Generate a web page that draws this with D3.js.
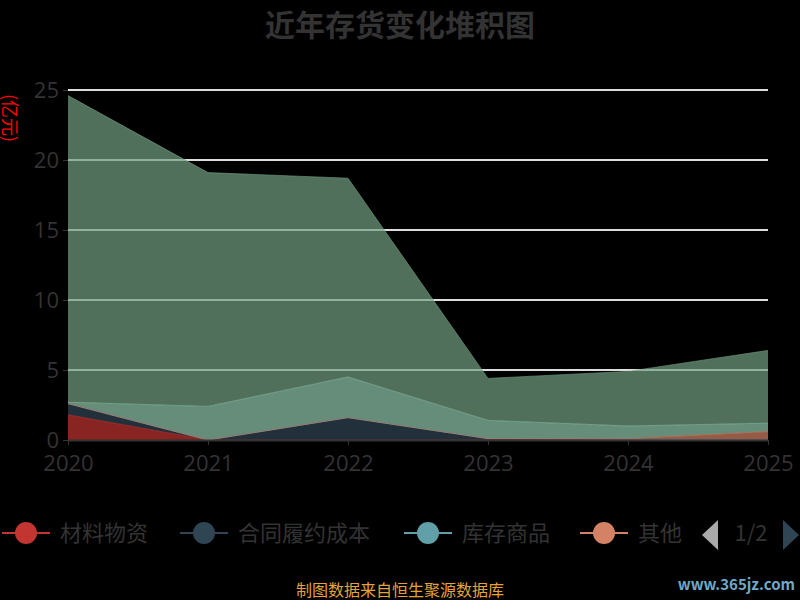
<!DOCTYPE html>
<html><head><meta charset="utf-8">
<script src="https://cdn.jsdelivr.net/npm/d3@7"></script>
<style>body{margin:0;background:#000}svg{display:block;font-family:"Noto Sans CJK SC",sans-serif}</style>
</head><body><svg id="c" width="800" height="600"></svg>
<script>
"use strict";

const years = ["2020", "2021", "2022", "2023", "2024", "2025"];
const seriesNames = ["材料物资", "合同履约成本", "库存商品", "其他", "在产品", "产成品"];
const seriesColors = ["#c23531", "#2f4554", "#61a0a8", "#d48265", "#91c7ae", "#749f83"];
const values = [
  [1.8, 0, 0, 0, 0, 0],
  [0.8, 0, 1.6, 0.1, 0.05, 0],
  [0, 0, 0, 0, 0, 0],
  [0, 0, 0, 0, 0.05, 0.6],
  [0.1, 2.4, 2.9, 1.3, 0.9, 0.6],
  [21.9, 16.7, 14.2, 3.0, 3.9, 5.2],
];
const yTicks = [0, 5, 10, 15, 20, 25];
const legendShown = 4;

const svg = d3.select("#c");
const x = d3.scalePoint().domain(years).range([68, 768]);
const y = d3.scaleLinear().domain([0, 25]).range([440, 90]);

const rows = years.map((yr, i) => {
  const r = { year: yr };
  seriesNames.forEach((n, k) => { r[n] = values[k][i]; });
  return r;
});
const stack = d3.stack().keys(seriesNames)(rows);

svg.append("text").attr("x", 400).attr("y", 36).attr("text-anchor", "middle")
  .attr("fill", "#333").attr("font-size", 30).attr("font-weight", "bold").text("近年存货变化堆积图");

// grid
svg.append("g").selectAll("line").data(yTicks.filter(d => d > 0)).join("line")
  .attr("x1", 68).attr("x2", 768).attr("y1", d => y(d)).attr("y2", d => y(d))
  .attr("stroke", "#ddd").attr("stroke-width", 2);

const area = d3.area().x((d, i) => x(years[i])).y0(d => y(d[0])).y1(d => y(d[1]));
const line = d3.line().x((d, i) => x(years[i])).y(d => y(d[1]));
stack.forEach((s, k) => {
  svg.append("path").attr("d", area(s)).attr("fill", seriesColors[k]).attr("fill-opacity", 0.7);
});
stack.forEach((s, k) => {
  svg.append("path").attr("d", line(s)).attr("fill", "none").attr("stroke", seriesColors[k]).attr("stroke-width", 1).attr("stroke-opacity", 0.6);
});

// axes
const yAxis = svg.append("g").attr("transform", "translate(68,0)")
  .call(d3.axisLeft(y).tickValues(yTicks).tickSize(5).tickPadding(4));
yAxis.select(".domain").remove();
yAxis.selectAll("line").attr("stroke", "#333");
yAxis.selectAll("text").attr("fill", "#333").attr("font-size", 22).attr("font-family", "Open Sans, sans-serif");

const xAxis = svg.append("g").attr("transform", "translate(0,440)")
  .call(d3.axisBottom(x).tickSize(5).tickPadding(10).tickSizeOuter(0));
xAxis.select(".domain").attr("stroke", "#333").attr("stroke-width", 2);
xAxis.selectAll("line").attr("stroke", "#333");
xAxis.selectAll("text").attr("fill", "#333").attr("font-size", 22).attr("font-family", "Open Sans, sans-serif");

svg.append("text").attr("transform", "translate(3,118) rotate(90)").attr("text-anchor", "middle")
  .attr("fill", "red").attr("font-size", 18).text("(亿元)");

// legend
const legX = [2, 180, 404, 580];
seriesNames.slice(0, legendShown).forEach((n, k) => {
  const g = svg.append("g").attr("transform", `translate(${legX[k]},533)`);
  g.append("line").attr("x1", 0).attr("x2", 48).attr("stroke", seriesColors[k]).attr("stroke-width", 2);
  g.append("circle").attr("cx", 24).attr("r", 11).attr("fill", seriesColors[k]);
  g.append("text").attr("x", 58).attr("y", 8).attr("fill", "#333").attr("font-size", 22).text(n);
});
svg.append("path").attr("d", "M718,520 L702,535 L718,550 Z").attr("fill", "#aaa");
svg.append("text").attr("x", 751).attr("y", 541).attr("text-anchor", "middle").attr("fill", "#333").attr("font-size", 22).text("1/2");
svg.append("path").attr("d", "M783,520 L799,535 L783,550 Z").attr("fill", "#2f4554");

svg.append("text").attr("x", 400).attr("y", 596).attr("text-anchor", "middle")
  .attr("fill", "#e6a23c").attr("font-size", 16).text("制图数据来自恒生聚源数据库");
svg.append("text").attr("x", 795).attr("y", 590).attr("text-anchor", "end")
  .attr("fill", "#6fa8c8").attr("font-size", 15).attr("font-weight", "bold").text("www.365jz.com");
</script></body></html>
